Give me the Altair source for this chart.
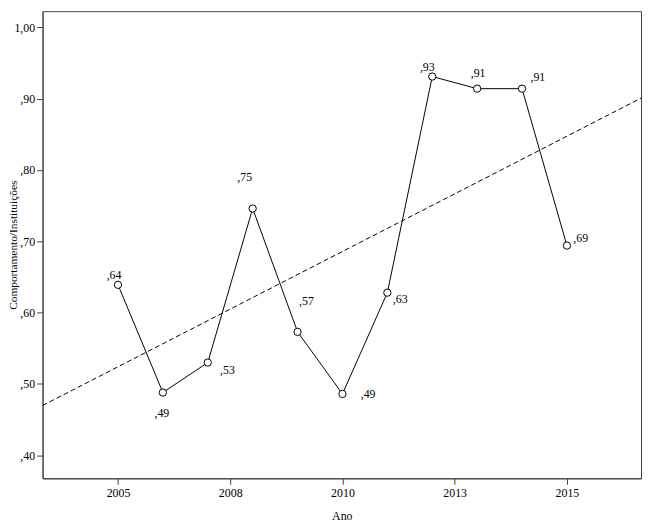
import altair as alt
import pandas as pd

# Data
years = [2005, 2006, 2007, 2008, 2009, 2010, 2011, 2012, 2013, 2014, 2015]
values = [0.639, 0.488, 0.530, 0.746, 0.573, 0.486, 0.628, 0.931, 0.914, 0.914, 0.694]

x_tick_values = [2005, 2007.5, 2010, 2012.5, 2015]
y_tick_values = [0.4, 0.5, 0.6, 0.7, 0.8, 0.9, 1.0]

x_domain = [2003.32, 2016.65]
y_domain = [0.3677, 1.0226]

df = pd.DataFrame({"Ano": years, "valor": values})

FONT = "Liberation Serif"
AXIS_COLOR = "#404040"

x_enc = alt.X(
    "Ano:Q",
    scale=alt.Scale(domain=x_domain, nice=False, zero=False),
    axis=alt.Axis(
        title="Ano",
        values=x_tick_values,
        labelExpr="format(round(datum.value), 'd')",
        grid=False,
        tickSize=6,
        labelPadding=3,
        titleY=38,
        titleBaseline="middle",
        titleFontWeight="normal",
    ),
)
y_enc = alt.Y(
    "valor:Q",
    scale=alt.Scale(domain=y_domain, nice=False, zero=False),
    axis=alt.Axis(
        title="Comportamento/Instituições",
        values=y_tick_values,
        labelExpr="datum.value >= 1 ? replace(format(datum.value, '.2f'), '.', ',') : replace(format(datum.value, '.2f'), '0.', ',')",
        grid=False,
        tickSize=6,
        labelPadding=2,
        titleX=-29,
        titleY=236.5,
        titleAngle=-90,
        titleAlign="center",
        titleBaseline="middle",
        titleFontWeight="normal",
        titleFontSize=11.5,
    ),
)

base = alt.Chart(df)

reg = base.transform_regression(
    "Ano", "valor", extent=x_domain
).mark_line(color="black", strokeWidth=1, strokeDash=[5, 3], clip=True).encode(x=x_enc, y=y_enc)

line = base.mark_line(color="black", strokeWidth=1).encode(x=x_enc, y=y_enc)

points = base.mark_point(
    shape="circle", filled=True, fill="white", stroke="black", strokeWidth=1, size=55, opacity=1
).encode(x=x_enc, y=y_enc)

# label offsets (styling) per year
label_offsets = {
    2005: (-4, -10),
    2006: (-1, 21),
    2007: (20, 8),
    2008: (-8, -32),
    2009: (9, -31),
    2010: (26, 0),
    2011: (13, 6),
    2012: (-5, -10),
    2013: (1, -16),
    2014: (16, -12),
    2015: (14, -8),
}

label_layers = []
for yr, (dx, dy) in label_offsets.items():
    label_layers.append(
        base.transform_filter(alt.datum.Ano == yr)
        .transform_calculate(lab="replace(format(datum.valor, '.2f'), '0.', ',')")
        .mark_text(font=FONT, fontSize=12, color="black", align="center", baseline="middle", dx=dx, dy=dy)
        .encode(x=x_enc, y=y_enc, text="lab:N")
    )

chart = alt.layer(reg, line, points, *label_layers).properties(
    width=606,
    height=473,
    autosize=alt.AutoSizeParams(type="none"),
    padding={"left": 35, "top": 0, "right": 1, "bottom": 42},
).configure_view(
    stroke=AXIS_COLOR, strokeWidth=1
).configure_axis(
    domainColor=AXIS_COLOR,
    tickColor=AXIS_COLOR,
    labelFont=FONT,
    titleFont=FONT,
    labelFontSize=12,
    titleFontSize=12,
    labelColor="black",
    titleColor="black",
)

chart.save("out.html", embed_options={"renderer": "svg", "actions": False})
